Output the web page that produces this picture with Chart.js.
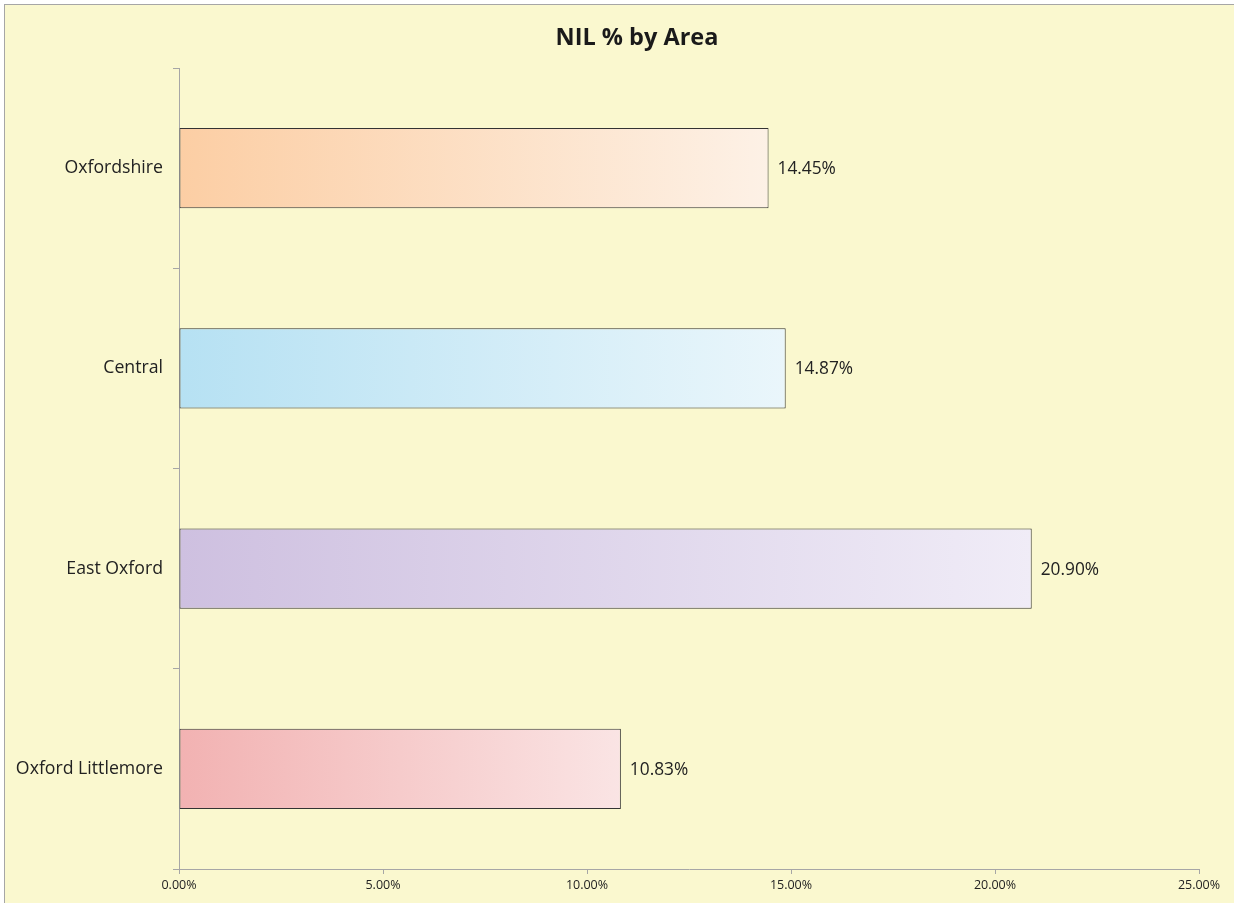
<!DOCTYPE html>
<html>
<head>
<meta charset="utf-8">
<script src="https://cdn.jsdelivr.net/npm/chart.js@4/dist/chart.umd.min.js"></script>
<style>
  html, body { margin: 0; padding: 0; background: #ffffff; overflow: hidden; width: 1234px; height: 903px; }
  #wrap { position: absolute; left: 0; top: 0; width: 1234px; height: 903px; background: #ffffff; overflow: hidden; }
  #frame { position: absolute; left: 4px; top: 4px; width: 1260px; height: 930px; background: #FAF8CF; border-top: 1px solid #a6a6a6; border-left: 1px solid #a6a6a6; }
  #c { position: absolute; left: 0; top: 0; }
</style>
</head>
<body>
<div id="wrap">
  <div id="frame"></div>
  <canvas id="c" width="1234" height="903"></canvas>
</div>
<script>
const titleText = "NIL % by Area";
const categories = ["Oxfordshire", "Central", "East Oxford", "Oxford Littlemore"];
const values = [14.45, 14.87, 20.90, 10.83];
const xTicks = [0, 5, 10, 15, 20, 25];
const gradStart = ["#FCCEA4", "#B6E1F3", "#CEC0E0", "#F2B2B2"];
const gradEnd = ["#FDF1E6", "#EAF6FB", "#F0ECF7", "#FAE4E4"];

const FONT = "'Open Sans', sans-serif";

function barFill(ctx) {
  const chart = ctx.chart;
  const xs = chart.scales.x;
  if (!xs || !chart.chartArea) return gradStart[ctx.dataIndex];
  const x0 = xs.getPixelForValue(0);
  const x1 = xs.getPixelForValue(values[ctx.dataIndex]);
  const g = chart.ctx.createLinearGradient(x0, 0, x1, 0);
  g.addColorStop(0, gradStart[ctx.dataIndex]);
  g.addColorStop(1, gradEnd[ctx.dataIndex]);
  return g;
}

const valueLabels = {
  id: 'valueLabels',
  afterDatasetsDraw(chart) {
    const c = chart.ctx;
    const meta = chart.getDatasetMeta(0);
    c.save();
    c.font = "17.3px " + FONT;
    c.fillStyle = "#222222";
    c.textAlign = "left";
    c.textBaseline = "middle";
    meta.data.forEach((bar, i) => {
      c.fillText(values[i].toFixed(2) + "%", bar.x + 9, bar.y + 1);
    });
    c.restore();
  }
};

const chartTitle = {
  id: 'chartTitle',
  afterDraw(chart) {
    const c = chart.ctx;
    c.save();
    c.font = "bold 23.5px " + FONT;
    c.fillStyle = "#1a1a1a";
    c.textAlign = "center";
    c.textBaseline = "middle";
    c.fillText(titleText, 637, 38.5);
    c.restore();
  }
};

new Chart(document.getElementById('c'), {
  type: 'bar',
  data: {
    labels: categories,
    datasets: [{
      data: values,
      backgroundColor: barFill,
      borderColor: "#333333",
      borderWidth: 1,
      borderSkipped: false,
      barPercentage: 0.4,
      categoryPercentage: 1.0
    }]
  },
  options: {
    indexAxis: 'y',
    responsive: false,
    animation: false,
    devicePixelRatio: 1,
    layout: { padding: { left: 0, right: 35, top: 68, bottom: 0 } },
    plugins: {
      legend: { display: false },
      tooltip: { enabled: false },
      title: { display: false }
    },
    scales: {
      x: {
        min: 0,
        max: 25,
        afterBuildTicks(scale) { scale.ticks = xTicks.map(v => ({ value: v })); },
        afterFit(scale) { scale.height = 34; },
        border: { display: true, color: "#a6a6a6", width: 1 },
        grid: { display: true, drawOnChartArea: false, drawTicks: true, tickLength: 5, color: "#a6a6a6" },
        ticks: {
          color: "#222222",
          font: { family: FONT, size: 12.5 },
          padding: 4,
          maxRotation: 0,
          callback: (v) => Number(v).toFixed(2) + "%"
        }
      },
      y: {
        afterFit(scale) { scale.width = 179; },
        border: { display: true, color: "#a6a6a6", width: 1 },
        grid: { display: true, offset: true, drawOnChartArea: false, drawTicks: true, tickLength: 6, color: "#a6a6a6" },
        ticks: {
          color: "#222222",
          font: { family: FONT, size: 17.7 },
          padding: 10
        }
      }
    }
  },
  plugins: [valueLabels, chartTitle]
});
</script>
</body>
</html>
